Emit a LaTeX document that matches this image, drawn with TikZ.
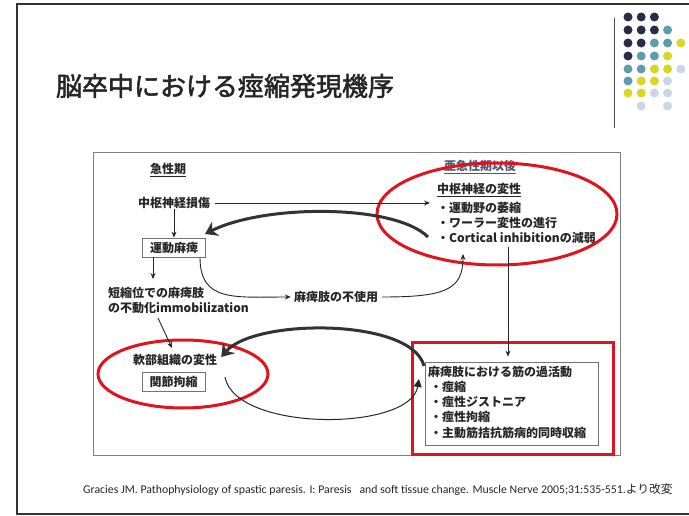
\documentclass[tikz,border=0pt]{standalone}
\usepackage{fontspec}
\usetikzlibrary{arrows.meta,shapes.geometric}
\newfontfamily\jpfont{Noto Sans CJK JP}
\newfontfamily\titlefont{Noto Sans CJK JP}[FakeBold=2]
\newfontfamily\reffont{Carlito}
\definecolor{dnavy}{HTML}{2B2D45}
\definecolor{dteal}{HTML}{5E9DAA}
\definecolor{dyel}{HTML}{D9D624}
\definecolor{dlblue}{HTML}{C9D7E6}
\definecolor{redmark}{HTML}{E0141E}
\definecolor{subblue}{HTML}{4A5872}
\begin{document}
\begin{tikzpicture}[x=1pt,y=-1pt,
  txt/.style={font=\jpfont\bfseries\fontsize{12}{14}\selectfont, inner sep=0pt, text=black!85},
  redline/.style={draw=redmark, line width=3pt},
  graybox/.style={draw=black!55, line width=0.8pt, inner sep=0pt, minimum width=63pt, minimum height=19pt},
  arr/.style={draw=black!85, line width=0.9pt, -{Stealth[length=6pt,width=5pt]}},
  thickarr/.style={draw=black!80, line width=3pt, -{Stealth[length=12pt,width=16pt,inset=4pt]}},
  thinarr/.style={draw=black!85, line width=1pt, -{Triangle[length=8pt,width=8pt]}},
  dot/.style={circle, inner sep=0pt, minimum size=9pt}
]
\useasboundingbox (0,0) rectangle (689,516);
\fill[white] (0,0) rectangle (689,516);
% slide border
\draw[black!80, line width=1.5pt] (689,4) -- (17,4) -- (17,514) -- (689,514);
% title
\node[font=\titlefont\fontsize{26}{30}\selectfont, text=black!85, inner sep=0pt] (title) at (225,86) {脳卒中における痙縮発現機序};
% vertical rule and dots
\draw[black!70, line width=0.9pt] (614,18) -- (614,128);
\foreach \r/\cols in {17/{dnavy,dnavy,dnavy},30/{dnavy,dnavy,dnavy,dteal},43/{dnavy,dnavy,dteal,dteal,dyel},56/{dnavy,dteal,dteal,dyel},69/{dteal,dteal,dyel,dyel,dlblue},81/{dteal,dyel,dyel,dlblue},93/{dyel,dyel,dlblue,dlblue}}{
  \foreach \c [count=\i] in \cols {
    \node[dot, fill=\c] (dot-\r-\i) at ({628+13.2*(\i-1)},\r) {};
  }
}
\node[dot, fill=dlblue] (dot-106-2) at (641.2,106) {};
\node[dot, fill=dlblue] (dot-106-4) at (667.6,106) {};
% diagram frame
\draw[black!50, line width=0.8pt] (93,152) rectangle (620,455);
% texts
\node[txt] (acute) at (168,170) {\underline{急性期}};
\node[txt, text=subblue] (subacute) at (480,167) {\underline{亜急性期以後}};
\node[txt] (cns) at (174,203) {中枢神経損傷};
\node[txt, anchor=west] (degen) at (437,190) {\underline{中枢神経の変性}};
\node[txt, anchor=west] (d1) at (437,208) {・運動野の萎縮};
\node[txt, anchor=west] (d2) at (437,223) {・ワーラー変性の進行};
\node[txt, anchor=west] (d3) at (437,238) {・Cortical inhibitionの減弱};
\node[txt, graybox] (motor) at (174,247.5) {運動麻痺};
\node[txt, anchor=west] (short1) at (108,293) {短縮位での麻痺肢};
\node[txt, anchor=west] (short2) at (108,308) {の不動化immobilization};
\node[txt] (disuse) at (336,297) {麻痺肢の不使用};
\node[txt] (soft) at (175,360) {軟部組織の変性};
\node[txt, graybox] (contract) at (173.5,381.5) {関節拘縮};
% overactivity box
\node[draw=black!55, line width=0.8pt, minimum width=173pt, minimum height=83pt, inner sep=0pt] (overbox) at (511.5,403.5) {};
\node[txt, anchor=west] (h1) at (428,372) {麻痺肢における筋の過活動};
\node[txt, anchor=west] (b1) at (430,387) {・痙縮};
\node[txt, anchor=west] (b2) at (430,402) {・痙性ジストニア};
\node[txt, anchor=west] (b3) at (430,417) {・痙性拘縮};
\node[txt, anchor=west] (b4) at (430,433) {・主動筋拮抗筋病的同時収縮};
% red marks
\node[ellipse, redline, minimum width=240pt, minimum height=102pt, inner sep=0pt] (ell1) at (497,214) {};
\node[ellipse, redline, minimum width=170pt, minimum height=68pt, inner sep=0pt] (ell2) at (183,374) {};
\node[redline, minimum width=201pt, minimum height=112pt, inner sep=0pt] (redrect) at (512.5,398.5) {};
% coordinates
\coordinate (p1) at (430,203);
\coordinate (t1s) at (428,237);
\coordinate (t1e) at (205,234);
\coordinate (p2) at (463,254);
\coordinate (p3) at (508,247);
\coordinate (p4) at (158,318);
\coordinate (t2s) at (424,366);
\coordinate (t3s) at (225,377);
\coordinate (t3e) at (419,379);
% connectors
\draw[arr] (cns.east) ++(5,0) -- (p1);
\draw[arr] (cns.south) -- (cns.south |- motor.north);
\draw[thickarr] (t1s) .. controls (395,204) and (265,204) .. (t1e);
\draw[arr] ([xshift=-21pt]motor.south) -- ([xshift=-21pt,yshift=8pt]motor.south |- short1.north);
\draw[arr] ([xshift=26pt]motor.south) .. controls ([xshift=26pt,yshift=-45pt]motor.south) and (235,297) .. ([xshift=-3pt]disuse.west);
\draw[arr] ([xshift=4pt]disuse.east) .. controls (445,297) and (463,290) .. (p2);
\draw[arr] (p3) -- ([yshift=5pt]p3 |- overbox.north);
\draw[arr] (p4) -- ([xshift=-3pt,yshift=6pt]soft.north);
\draw[thickarr] (t2s) .. controls (412,318) and (255,318) .. ([xshift=4pt,yshift=3pt]soft.east);
\draw[thinarr] (t3s) .. controls (235,432) and (410,432) .. (t3e);
% citation
\node[font=\reffont\fontsize{11.8}{13}\selectfont, inner sep=0pt, text=black!85] (cite) at (378,490) {Gracies JM. Pathophysiology of spastic paresis. I: Paresis \ \ and soft tissue change. Muscle Nerve 2005;31:535-551.{\jpfont より改変}};
\end{tikzpicture}
\end{document}
